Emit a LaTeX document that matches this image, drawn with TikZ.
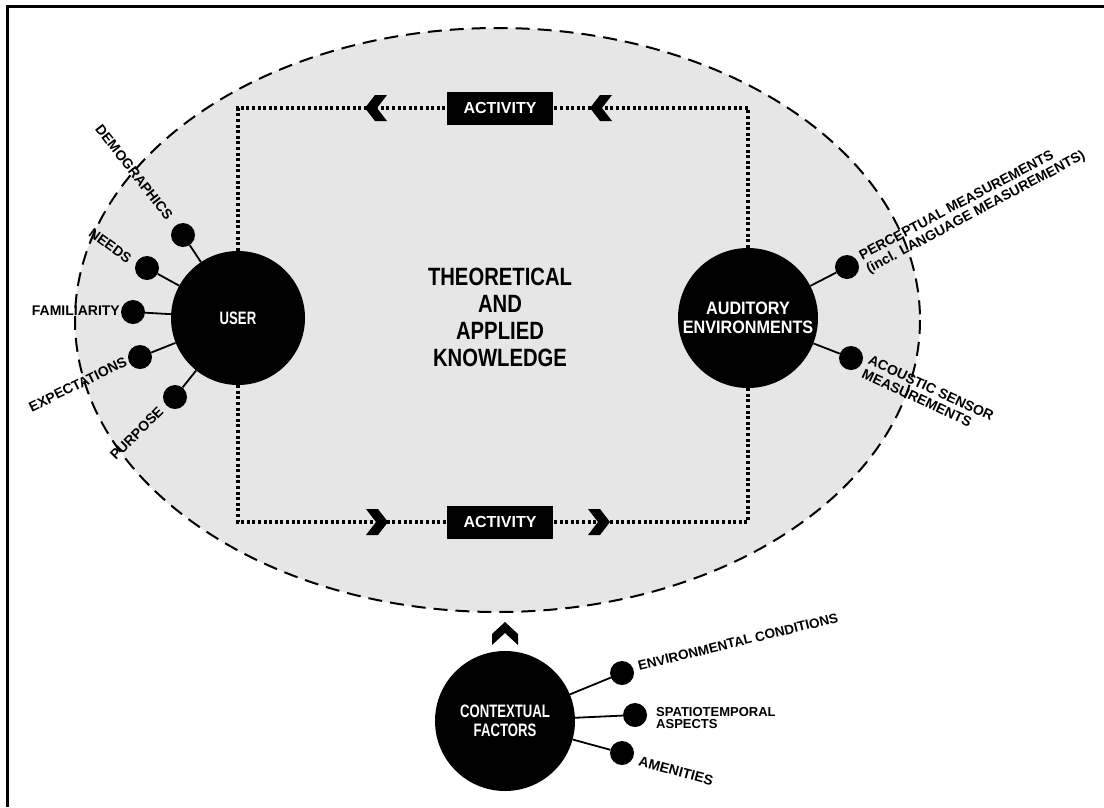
\documentclass[tikz,border=0pt]{standalone}
\usepackage{fontspec}
\setmainfont{Liberation Sans}
\newfontfamily\condS[FakeStretch=0.73]{Liberation Sans}
\newfontfamily\condM[FakeStretch=0.81]{Liberation Sans}
\newfontfamily\condW[FakeStretch=0.9]{Liberation Sans}
\definecolor{ellgray}{HTML}{E6E6E6}
\tikzset{
  bigcirc/.style={circle, fill=black, text=white, minimum size=#1, inner sep=0pt, align=center,
    font=\condS\bfseries\fontsize{18}{18.5}\selectfont},
  smalldot/.style={circle, fill=black, minimum size=24pt, inner sep=0pt},
  conn/.style={line width=1.8pt},
  lab/.style={font=\bfseries\fontsize{14}{15}\selectfont, inner sep=0pt, align=left},
  actbox/.style={fill=black, text=white, minimum width=106pt, minimum height=33pt, inner sep=0pt,
    font=\bfseries\fontsize{16}{16}\selectfont},
  dotline/.style={line width=3.2pt, dash pattern=on 3pt off 2.6pt},
  chevl/.pic={\fill (-10,0) -- (0,-13) -- (12,-13) -- (2,0) -- (12,13) -- (0,13) -- cycle;},
  chevr/.pic={\fill (10,0) -- (0,-13) -- (-12,-13) -- (-2,0) -- (-12,13) -- (0,13) -- cycle;},
  chevu/.pic={\fill (0,-12) -- (13,0) -- (13,11) -- (0,-1) -- (-13,11) -- (-13,0) -- cycle;}
}
\begin{document}
\begin{tikzpicture}[x=1pt,y=-1pt]
\useasboundingbox (0,0) rectangle (1104,807);
% frame
\draw[line width=3pt] (7.5,807) -- (7.5,6.5) -- (1104,6.5);
% ellipse
\draw[fill=ellgray, line width=2pt, dash pattern=on 14pt off 8pt] (497.5,320) ellipse [x radius=422.5, y radius=292];
% main text
\node[font=\condM\bfseries\fontsize{25}{27}\selectfont, align=center] (know) at (500,317) {THEORETICAL\\AND\\APPLIED\\KNOWLEDGE};
% big circles
\node[bigcirc=134pt] (user) at (238,318) {USER};
\node[bigcirc=140pt, font=\condW\bfseries\fontsize{18}{18.5}\selectfont] (aud) at (748,318) {AUDITORY\\ENVIRONMENTS};
\node[bigcirc=140pt] (ctx) at (505,721) {CONTEXTUAL\\FACTORS};
% activity boxes
\node[actbox] (act1) at (500,108) {ACTIVITY};
\node[actbox] (act2) at (500,522) {ACTIVITY};
% dotted loop
\draw[dotline] (user) |- (act1);
\draw[dotline] (aud) |- (act1);
\draw[dotline] (user) |- (act2);
\draw[dotline] (aud) |- (act2);
\pic at (375,108) {chevl};
\pic at (600,108) {chevl};
\pic at (378,522) {chevr};
\pic at (600,522) {chevr};
\pic at (505,634) {chevu};
% user dots
\node[smalldot] (d1) at (183,235) {};
\node[smalldot] (d2) at (147,268) {};
\node[smalldot] (d3) at (133,312) {};
\node[smalldot] (d4) at (140,357) {};
\node[smalldot] (d5) at (175,397) {};
\foreach \d in {d1,d2,d3,d4,d5} \draw[conn] (user) -- (\d);
\node[lab, rotate=-52, anchor=east] (l1) at (170,218) {DEMOGRAPHICS};
\node[lab, rotate=-36, anchor=east] (l2) at (130,260) {NEEDS};
\node[lab, anchor=east] (l3) at (120,311) {FAMILIARITY};
\node[lab, rotate=26, anchor=east] (l4) at (126,361) {EXPECTATIONS};
\node[lab, rotate=45, anchor=east] (l5) at (161,409) {PURPOSE};
% auditory dots
\node[smalldot] (a1) at (847,267) {};
\node[smalldot] (a2) at (851,358) {};
\draw[conn] (aud) -- (a1);
\draw[conn] (aud) -- (a2);
\node[lab, rotate=28, anchor=west] (la1) at (864,264) {PERCEPTUAL MEASUREMENTS\\(incl. LANGUAGE MEASUREMENTS)};
\node[lab, rotate=-25, anchor=west] (la2) at (866,366) {ACOUSTIC SENSOR\\MEASUREMENTS};
% contextual dots
\node[smalldot] (c1) at (622,673) {};
\node[smalldot] (c2) at (635,715) {};
\node[smalldot] (c3) at (622,753) {};
\draw[conn] (ctx) -- (c1);
\draw[conn] (ctx) -- (c2);
\draw[conn] (ctx) -- (c3);
\node[lab, rotate=13.6, anchor=west, font=\bfseries\fontsize{13.5}{14}\selectfont] (lc1) at (638,666) {ENVIRONMENTAL CONDITIONS};
\node[lab, anchor=west, font=\bfseries\fontsize{13}{12.5}\selectfont] (lc2) at (656,718) {SPATIOTEMPORAL\\ASPECTS};
\node[lab, rotate=-15, anchor=west] (lc3) at (639,761) {AMENITIES};
\end{tikzpicture}
\end{document}
